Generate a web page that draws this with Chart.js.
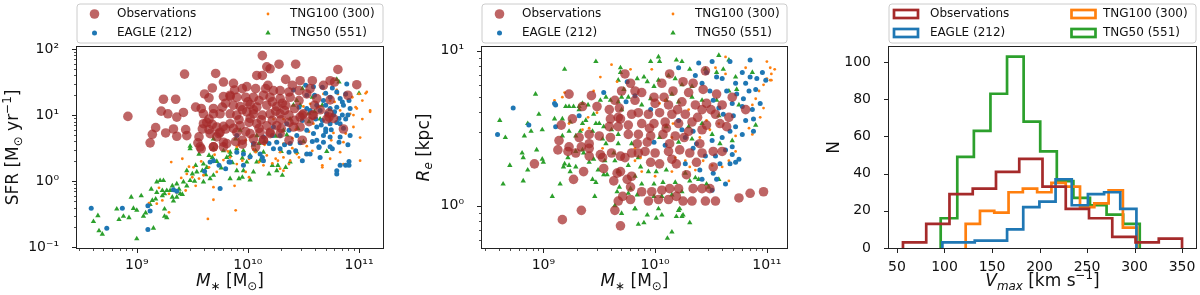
<!DOCTYPE html>
<html>
<head>
<meta charset="utf-8">
<script src="https://cdn.jsdelivr.net/npm/chart.js@4.4.1/dist/chart.umd.min.js"></script>
<style>
  html, body { margin: 0; padding: 0; background: #fff; }
  #wrap { position: relative; width: 1200px; height: 295px; }
  .panel { position: absolute; top: 0; width: 400px; height: 295px; }
</style>
</head>
<body>
<div id="wrap">
  <div class="panel" style="left:0"><canvas id="sfr" width="400" height="295"></canvas></div>
  <div class="panel" style="left:400px"><canvas id="re" width="400" height="295"></canvas></div>
  <div class="panel" style="left:800px"><canvas id="vmax" width="400" height="295"></canvas></div>
</div>
<script>
const sfrObs = [
  [9.43,1.62],[9.71,1.63],[9.78,1.50],[9.68,1.41],[9.24,1.24],[9.35,1.24],[9.61,1.32],[9.65,1.26],[9.78,1.28],[9.84,1.28],
  [9.80,1.18],[9.53,1.12],[9.58,1.10],[9.69,1.10],[9.77,1.12],[9.22,1.06],[9.28,1.02],[9.36,0.97],[9.42,1.04],[8.92,0.98],
  [9.60,1.02],[9.65,0.94],[9.69,1.02],[9.75,1.02],[9.60,0.87],[9.63,0.89],[9.68,0.86],[9.72,0.82],[9.78,0.83],[9.17,0.81],
  [9.14,0.71],[9.26,0.73],[9.33,0.79],[9.44,0.78],[9.36,0.68],[9.45,0.69],[9.59,0.79],[9.66,0.72],[9.75,0.74],[9.80,0.79],
  [9.12,0.58],[9.55,0.58],[9.72,0.67],[9.78,0.59],[9.58,0.49],[9.69,0.52],[9.78,0.52],
  [10.13,1.90],[10.28,1.77],[10.43,1.77],[10.17,1.73],[10.20,1.70],[10.81,1.69],[10.08,1.60],[10.13,1.60],[10.34,1.54],[10.47,1.52],
  [10.58,1.52],[10.74,1.52],[10.78,1.50],[10.98,1.46],[9.87,1.48],[9.95,1.40],[9.99,1.43],[10.07,1.40],[10.16,1.40],[10.23,1.37],
  [10.29,1.37],[10.37,1.35],[10.46,1.37],[10.53,1.32],[10.62,1.25],[9.84,1.30],[9.90,1.27],[9.98,1.27],[10.05,1.27],[10.14,1.30],
  [10.20,1.27],[10.29,1.25],[10.38,1.27],[10.46,1.22],[9.87,1.15],[9.93,1.13],[10.02,1.16],[10.08,1.12],[10.17,1.15],[10.26,1.13],
  [10.34,1.15],[9.84,1.02],[9.90,1.00],[9.99,1.05],[10.05,1.02],[10.13,1.00],[10.20,1.02],[10.29,1.02],[10.37,1.00],[10.47,0.97],
  [10.50,1.02],[10.58,1.00],[10.71,0.94],[10.73,0.97],[9.84,0.87],[9.93,0.84],[10.01,0.89],[10.08,0.87],[10.17,0.84],[10.26,0.84],
  [10.37,0.89],[10.47,0.82],[10.86,0.79],[9.90,0.74],[10.02,0.72],[10.11,0.74],[10.20,0.74],[10.29,0.72],[10.37,0.62],[9.95,0.62],
  [10.05,0.64],[10.14,0.62],
  [9.56,0.67],[9.65,0.78],[9.74,0.72],[9.81,0.57],[9.89,0.60],[9.95,0.56],[9.57,0.52],[9.69,0.52],[10.07,0.52],[9.87,0.80],
  [9.98,0.75],[10.14,0.62],[10.20,0.72],[10.74,1.23],[10.73,1.03],[10.77,0.95],[10.59,1.00],[10.49,1.00],[10.41,0.82],[10.49,0.62],
  [10.00,1.20],[10.10,1.22],[10.22,1.20],[10.31,1.18],[10.42,1.10],[9.95,1.08],[10.05,1.08],[10.25,1.06],[10.33,1.07],[10.42,0.92],
  [10.12,0.93],[10.02,0.95],[9.92,0.93],[10.22,0.92],[10.30,0.93],[10.55,0.90],[10.65,1.08],[10.60,1.15],[10.10,0.80],[10.30,0.80],
  [9.88,1.38],[10.18,1.45],[10.40,1.45],[10.56,1.40],[10.68,1.45],[10.90,1.30]
];
const sfrEagle = [
  [10.41,1.38],[10.52,1.45],[10.59,1.43],[10.67,1.42],[10.76,1.41],[10.89,1.47],[10.88,1.32],[10.83,1.25],[10.91,1.22],[10.74,1.27],
  [10.68,1.22],[10.62,1.15],[10.56,1.07],[10.65,1.07],[10.74,1.10],[10.80,1.12],[10.86,1.15],[10.92,1.10],[10.71,1.02],[10.77,1.00],
  [10.85,1.00],[10.61,0.94],[10.67,0.92],[10.74,0.87],[10.80,0.89],[10.88,0.94],[10.62,0.82],[10.70,0.79],[10.53,0.77],[10.59,0.72],
  [10.68,0.69],[10.74,0.67],[10.83,0.67],[10.92,0.69],[10.44,0.69],[10.37,0.77],[10.29,0.69],[10.22,0.69],[10.14,0.67],[10.23,0.82],
  [10.35,0.87],[10.49,0.92],[10.53,1.10],[10.46,1.12],[10.83,0.87],[10.68,0.59],[10.64,0.52],[10.74,0.52],[10.82,0.59],[10.38,0.57],
  [10.26,0.59],[10.19,0.57],[9.90,0.69],[10.05,0.57],[10.53,1.30],
  [9.90,0.44],[9.96,0.41],[10.02,0.37],[10.11,0.41],[10.14,0.31],[10.23,0.49],[10.37,0.44],[10.43,0.46],[10.49,0.31],[10.53,0.41],
  [10.56,0.41],[10.64,0.51],[10.65,0.36],[10.76,0.49],[10.80,0.16],[10.80,0.11],[10.83,0.24],[10.88,0.24],[10.91,0.30],[10.91,0.24],
  [10.29,0.49],[9.84,0.29],[9.96,0.24],[10.13,0.36],
  [8.59,-0.41],[8.73,-0.71],[8.87,-0.41],[9.10,-0.37],[9.12,-0.45],[9.10,-0.73],[9.33,-0.13],[9.36,-0.15],[9.61,0.15],[9.66,0.29],
  [9.75,-0.11],[9.74,0.24],[9.83,0.29],[9.80,0.19],[9.69,0.31],
  [10.60,1.30],[10.70,1.33],[10.80,1.35],[10.85,1.20],[10.70,1.15],[10.78,1.05],[10.82,0.95],[10.90,1.00],[10.66,0.85],[10.75,0.78],
  [10.86,0.80],[10.58,0.60],[10.70,0.75],[10.90,0.55],[10.62,0.62],[10.47,0.58],[10.33,0.55]
];
const sfrTng100 = [
  [10.80,1.38],[10.81,1.32],[10.88,1.30],[10.94,1.27],[11.00,1.32],[11.06,1.33],[11.03,1.22],[10.97,1.12],[10.98,1.10],[10.92,1.02],
  [10.89,0.97],[10.95,1.00],[11.03,0.94],[11.10,1.07],[10.83,1.07],[10.74,1.22],[10.78,1.20],[10.68,1.32],[10.64,1.12],[10.56,1.17],
  [10.50,1.13],[10.49,1.02],[10.59,0.87],[10.77,0.73],[10.88,0.72],[10.95,0.82],[11.01,0.66],[10.86,0.59],[10.32,0.94],[10.23,0.94],
  [10.43,0.78],[9.98,0.62],[9.90,0.52],[10.32,0.57],[10.53,0.53],
  [9.84,0.36],[9.90,0.26],[9.95,0.31],[10.01,0.34],[10.07,0.44],[10.10,0.29],[10.14,0.24],[10.17,0.39],[10.22,0.27],[10.25,0.34],
  [10.29,0.44],[10.32,0.36],[10.37,0.26],[10.38,0.31],[10.44,0.41],[10.46,0.36],[10.29,0.19],[10.58,0.46],[10.67,0.24],[10.67,0.21],
  [10.74,0.34],[10.83,0.44],[10.86,0.26],[11.01,0.31],[9.88,-0.07],[9.89,-0.44],[9.98,0.14],[10.01,0.06],[10.32,0.16],[10.27,0.31],
  [9.31,0.29],[9.41,0.34],[9.64,-0.57],[9.69,-0.28],[9.45,0.11],[9.50,0.06],[9.56,0.04],[9.60,0.09],[9.53,-0.07],[9.44,-0.14],
  [9.36,-0.17],[9.29,-0.19],[9.23,-0.29],[9.18,-0.34],[9.11,-0.33],[9.29,-0.47],[9.69,-0.09],[9.72,0.14],[9.65,0.21],[9.51,0.21],
  [9.78,0.32],[11.07,1.35],[11.10,1.05],
  [9.70,0.40],[9.82,0.45],[9.92,0.55],[10.05,0.48],[10.15,0.55],[10.25,0.60],[10.40,0.65],[10.55,0.75],[10.62,0.95],[10.72,1.00],
  [10.75,0.62],[10.52,0.40],[10.40,0.50],[9.58,0.30],[9.47,0.22],[9.40,0.05],[9.20,-0.10]
];
const sfrTng50 = [
  [8.61,-0.61],[8.65,-0.52],[8.66,-0.75],[8.69,-0.80],[8.82,-0.42],[8.84,-0.58],[8.88,-0.53],[8.93,-0.55],[8.95,-0.24],[8.97,-0.41],
  [9.00,-0.44],[9.00,-0.87],[9.04,-0.22],[9.06,-0.53],[9.08,-0.48],[9.13,-0.12],[9.14,-0.29],[9.17,-0.27],[9.18,-0.01],[9.21,0.01],
  [9.24,0.01],[9.25,-0.53],[9.27,-0.55],[9.15,-0.71],[9.25,-0.42],[9.32,-0.07],[9.36,-0.04],[9.18,-0.17],[9.23,-0.14],[9.27,-0.14],
  [9.32,-0.24],[9.36,-0.24],[9.38,-0.12],[9.42,-0.01],[9.45,-0.07],[9.48,0.01],[9.50,0.11],[9.54,0.14],[9.59,0.16],[9.39,-0.19],
  [9.23,-0.22],[9.25,-0.19],[9.30,-0.14],[9.60,-0.01],[9.63,0.21],[9.66,0.04],[9.48,0.49],[9.56,0.41],[9.65,0.39],[9.68,0.36],
  [9.69,0.49],[9.78,0.46],[9.81,0.36],[9.84,0.39],[9.60,0.26],[9.53,0.24],[9.45,0.16],[9.69,0.09],
  [9.84,0.44],[9.90,0.49],[9.96,0.46],[9.99,0.29],[10.02,0.39],[10.07,0.46],[10.08,0.29],[10.11,0.31],[10.14,0.44],[10.19,0.11],
  [10.26,0.16],[10.27,0.24],[10.31,0.09],[10.34,0.21],[10.38,0.29],[10.44,0.44],[10.71,0.45],[9.92,0.04],[9.95,0.06],[10.02,0.02],
  [9.90,0.16],[9.96,0.16],[10.05,0.14],[10.22,0.24],[9.84,0.04],
  [10.49,1.40],[10.44,1.22],[10.41,1.15],[10.55,1.03],[10.58,1.27],[10.67,1.15],[10.80,1.54],[10.82,1.50],[11.00,1.33],[9.93,0.77],
  [9.89,0.64],[10.08,0.69],[10.10,0.57],[10.38,0.94],[10.47,1.15],[10.32,0.77],[10.65,0.94],[10.74,1.08],[9.69,0.64],[9.48,0.53],
  [9.72,0.30],[9.76,0.20],[9.86,0.28],[9.95,0.35],[10.05,0.55],[10.15,0.60],[10.25,0.68],[10.35,0.70],[10.45,0.80],[10.55,0.90],
  [9.62,0.10],[9.52,0.00],[9.41,-0.20],[9.33,-0.30],[9.12,-0.35],[10.60,1.05],[10.30,0.45],[10.50,0.60]
];

const reObs = [
  [9.23,0.72],[9.35,0.64],[9.26,0.56],[9.43,0.71],[9.16,0.52],[9.32,0.44],[9.41,0.46],[9.50,0.45],[9.59,0.51],[9.60,0.56],
  [9.59,0.62],[9.68,0.63],[9.70,0.74],[9.73,0.85],[9.78,0.79],[9.69,0.56],[9.67,0.51],[9.76,0.52],[9.76,0.46],[9.14,0.42],
  [9.23,0.38],[9.41,0.40],[9.60,0.44],[9.67,0.57],[9.79,0.59],[9.82,0.74],[9.64,0.68],
  [8.92,0.27],[9.13,0.36],[9.22,0.35],[9.29,0.34],[9.36,0.22],[9.27,0.17],[9.34,-0.03],[9.17,-0.09],[9.53,0.31],[9.61,0.34],
  [9.69,0.32],[9.73,0.31],[9.79,0.34],[9.54,0.24],[9.69,0.22],[9.63,0.16],[9.75,0.17],[9.79,0.19],[9.67,0.03],[9.71,0.06],
  [9.78,0.04],[9.64,-0.03],[9.69,-0.13],[9.41,0.37],
  [10.13,0.85],[10.45,0.87],[10.25,0.80],[10.34,0.79],[10.06,0.79],[9.99,0.70],[9.88,0.73],[10.16,0.74],[10.30,0.73],[10.43,0.75],
  [10.55,0.72],[10.69,0.70],[10.00,0.66],[10.12,0.65],[10.24,0.67],[10.36,0.65],[10.46,0.66],[10.60,0.65],[9.85,0.60],[9.94,0.59],
  [10.04,0.60],[10.15,0.59],[10.27,0.59],[10.42,0.62],[10.54,0.59],[10.66,0.57],[9.88,0.53],[9.99,0.53],[10.09,0.54],[10.21,0.53],
  [10.33,0.54],[10.46,0.52],[10.58,0.53],[9.85,0.46],[9.96,0.45],[10.07,0.46],[10.18,0.45],[10.30,0.48],[10.42,0.49],[9.84,0.40],
  [9.93,0.41],[10.13,0.40],[9.82,0.68],[10.81,0.62],[10.64,0.51],
  [9.91,0.35],[10.00,0.34],[10.12,0.35],[10.22,0.36],[10.31,0.34],[10.42,0.34],[10.52,0.35],[9.96,0.28],[10.04,0.27],[10.19,0.27],
  [10.37,0.28],[9.88,0.09],[9.97,0.09],[10.06,0.10],[10.13,0.11],[10.21,0.11],[10.34,0.11],[10.42,0.11],[10.49,0.11],[10.52,0.25],
  [10.60,0.35],[9.94,0.03],[10.03,0.04],[10.12,0.04],[10.19,0.06],[10.25,0.03],[10.33,0.03],[10.45,0.03],[10.54,0.03],[10.75,0.05],
  [10.85,0.08],[10.97,0.09],[9.85,0.34],
  [9.48,0.64],[9.51,0.33],[9.41,0.32],[9.34,0.38],[9.66,0.21],[9.78,0.12],
  [10.08,0.70],[10.20,0.62],[10.38,0.57],[10.10,0.50],[10.26,0.44],[10.50,0.62],[9.95,0.50],[10.40,0.40],[10.15,0.30],[10.28,0.20]
];
const reEagle = [
  [8.73,0.63],[8.59,0.46],[8.87,0.52],[9.10,0.66],[9.11,0.65],[9.11,0.51],[9.32,0.58],[9.54,0.73],[9.75,0.80],[9.74,0.67],[9.82,0.71],
  [10.21,0.89],[10.39,0.92],[10.51,0.93],[10.67,0.93],[10.85,0.94],[10.46,0.86],[10.55,0.83],[10.42,0.79],[10.60,0.82],[10.78,0.86],
  [10.85,0.83],[10.81,0.79],[10.91,0.82],[10.99,0.81],[10.96,0.86],[10.72,0.79],[10.64,0.74],[10.73,0.72],[10.84,0.74],[10.90,0.75],
  [10.79,0.69],[10.69,0.66],[10.78,0.64],[10.87,0.62],[10.94,0.66],[10.61,0.59],[10.70,0.58],[10.81,0.55],[10.88,0.56],[10.72,0.51],
  [10.78,0.46],[10.67,0.48],[10.60,0.44],[10.88,0.48],[10.51,0.42],[10.37,0.40],[10.34,0.48],[10.24,0.49],[10.09,0.39],[9.99,0.41],
  [9.96,0.62],[10.49,0.74],[10.36,0.84],[10.27,0.44],
  [10.34,0.37],[10.45,0.32],[10.54,0.32],[10.63,0.36],[10.69,0.33],[10.72,0.28],[10.75,0.30],[10.67,0.27],[10.58,0.27],[10.40,0.23],
  [10.52,0.21],[10.42,0.17],[10.55,0.17],[10.63,0.14],[10.51,0.10],[10.27,0.27],[10.69,0.38],
  [10.21,0.55],[10.52,0.68],[10.57,0.63]
];
const reTng100 = [
  [9.61,0.91],[9.51,0.83],[9.45,0.74],[9.40,0.57],[9.41,0.50],[9.48,0.60],[9.10,0.68],[9.19,0.73],[9.17,0.70],[9.23,0.53],
  [9.66,0.80],[9.78,0.88],[9.35,0.49],
  [9.97,0.88],[10.63,0.96],[10.54,0.89],[11.00,0.93],[11.03,0.89],[11.07,0.88],[10.96,0.86],[11.04,0.85],[11.00,0.82],[11.03,0.81],
  [10.97,0.78],[11.04,0.81],[10.93,0.74],[10.90,0.69],[10.87,0.65],[10.97,0.63],[10.94,0.57],[10.84,0.50],[10.87,0.46],[10.72,0.45],
  [10.57,0.53],[10.46,0.55],[10.49,0.49],[10.40,0.44],[10.15,0.44],[10.09,0.68],[10.30,0.62],[10.63,0.85],[10.81,0.89],
  [9.87,0.31],[10.18,0.31],[10.27,0.29],[10.31,0.25],[10.36,0.23],[10.43,0.29],[10.51,0.26],[10.60,0.25],[10.66,0.29],[10.72,0.35],
  [10.66,0.16],[10.15,0.22],[10.00,0.19],[9.88,0.22],[9.82,0.29],
  [9.53,0.37],[9.82,0.37],[9.96,0.62],[10.04,0.66],[10.16,0.53]
];
const reTng50 = [
  [9.47,0.93],[9.19,0.88],[8.93,0.72],[8.61,0.55],[8.66,0.44],[8.83,0.45],[8.89,0.48],[8.96,0.59],[8.86,0.53],[9.10,0.56],
  [9.17,0.56],[9.20,0.64],[9.23,0.64],[9.27,0.64],[9.32,0.64],[9.35,0.66],[9.40,0.65],[9.45,0.59],[9.47,0.53],[9.51,0.68],
  [9.56,0.70],[9.60,0.68],[9.67,0.67],[9.70,0.70],[9.76,0.70],[9.70,0.62],[9.23,0.48],[9.29,0.45],[9.33,0.48],[9.17,0.45],
  [9.24,0.54],[9.35,0.53],[9.38,0.55],[9.44,0.48],[9.50,0.53],[9.54,0.51],[9.61,0.49],[9.67,0.46],[9.53,0.43],[9.56,0.40],
  [9.67,0.40],[9.79,0.40],[9.69,0.86],[9.67,0.81],[9.72,0.75],[9.69,0.89],[9.32,0.62],[8.99,0.49],
  [8.81,0.34],[8.82,0.31],[8.94,0.36],[8.99,0.30],[9.00,0.28],[8.70,0.26],[8.86,0.23],[8.64,0.14],[8.82,0.16],[9.08,0.06],
  [9.15,0.14],[9.18,0.25],[9.19,0.27],[9.23,0.26],[9.29,0.25],[9.24,0.22],[9.22,0.31],[9.29,0.35],[9.35,0.36],[9.36,0.34],
  [9.41,0.28],[9.45,0.30],[9.44,0.17],[9.47,0.15],[9.46,0.06],[9.49,0.23],[9.54,0.20],[9.57,0.20],[9.55,0.29],[9.64,0.29],
  [9.67,0.22],[9.68,0.12],[9.66,0.09],[9.64,0.00],[9.70,-0.05],[9.76,0.26],[9.78,0.11],[9.76,0.08],[9.82,-0.02],[9.63,0.34],
  [9.85,0.31],[9.94,0.22],[10.01,0.22],[10.10,0.23],[9.82,0.19],[9.84,0.07],[9.88,0.14],[9.99,0.14],[10.07,0.15],[10.18,0.15],
  [10.31,0.16],[10.39,0.17],[10.46,0.14],[9.99,0.06],[10.06,0.06],[10.15,0.07],[10.24,0.09],[10.21,-0.03],[10.22,-0.02],[10.03,-0.02],
  [9.93,-0.06],[10.01,-0.08],[10.06,-0.06],[9.85,-0.12],[9.90,-0.11],[9.82,-0.02],[10.19,-0.07],[10.24,-0.07],[10.25,-0.06],[10.31,-0.11],
  [10.15,-0.17],[10.11,-0.21],[10.27,0.21],[10.36,0.18],[10.57,0.17],[9.87,0.25],[10.48,0.12],
  [9.96,0.93],[10.04,0.93],[10.03,0.96],[10.19,0.94],[10.31,0.88],[10.45,0.88],[10.55,0.86],[10.57,0.97],[10.66,0.94],[10.61,0.88],
  [10.72,0.83],[10.87,0.86],[9.90,0.83],[9.93,0.80],[9.99,0.77],[10.03,0.81],[10.12,0.84],[10.18,0.82],[10.24,0.78],[10.33,0.77],
  [9.96,0.69],[10.10,0.68],[10.15,0.72],[10.21,0.67],[10.33,0.70],[10.42,0.68],[10.55,0.68],[10.66,0.74],[10.73,0.75],[10.75,0.65],
  [10.57,0.58],[10.42,0.53],[10.30,0.51],[10.10,0.51],[10.04,0.44],[10.21,0.41],[10.33,0.43],[10.51,0.46],[10.58,0.40],[10.69,0.42],
  [10.90,0.52],[9.88,0.65],[10.24,0.93],[9.84,0.82]
];

// ---- data: Vmax histograms (12 equal bins over each sample's range, km/s) ----
const vmaxObsRange = [56.3, 350.0];
const vmaxObsCounts = [3, 13, 29, 32, 41, 48, 33, 21, 16, 6, 3, 5];
const vmaxEagleRange = [97.8, 302.0];
const vmaxEagleCounts = [3, 3, 4, 4, 10, 22, 25, 37, 23, 29, 30, 21];
const vmaxTng100Range = [122.3, 302.8];
const vmaxTng100Counts = [13, 20, 19, 30, 32, 30, 35, 33, 22, 24, 31, 11];
const vmaxTng50Range = [96.0, 305.5];
const vmaxTng50Counts = [16, 49, 63, 83, 103, 68, 52, 36, 27, 23, 18, 13];

const vmaxTicks = [50, 100, 150, 200, 250, 300, 350];
const countTicks = [0, 20, 40, 60, 80, 100];
const labels = ['Observations', 'EAGLE (212)', 'TNG100 (300)', 'TNG50 (551)'];

// ---- styling ----
const FONT = "'DejaVu Sans', sans-serif";
const INK = '#111';
const C_OBS = 'rgba(165,42,42,0.72)';
const C_OBS_LINE = '#a52a2a';
const C_EAGLE = '#1f77b4';
const C_TNG100 = '#ff7f0e';
const C_TNG50 = '#2ca02c';

Chart.defaults.font.family = FONT;
Chart.defaults.color = INK;
Chart.defaults.animation = false;

const SUP = { '0': '⁰', '1': '¹', '2': '²', '3': '³', '4': '⁴', '5': '⁵', '6': '⁶', '7': '⁷', '8': '⁸', '9': '⁹', '-': '⁻' };
const sup = n => String(n).split('').map(c => SUP[c]).join('');

const toPoints = pairs => pairs.map(([m, v]) => ({ x: 10 ** m, y: 10 ** v }));

function stepPoints(range, counts) {
  const [lo, hi] = range;
  const w = (hi - lo) / counts.length;
  const pts = [{ x: lo, y: 0 }];
  counts.forEach((c, i) => pts.push({ x: lo + i * w, y: c }));
  pts.push({ x: hi, y: 0 });
  return pts;
}

function logTicks(min, max) {
  const out = [];
  for (let e = Math.floor(Math.log10(min)); e <= Math.ceil(Math.log10(max)); e++) {
    for (let m = 1; m <= 9; m++) {
      const v = m * 10 ** e;
      if (v >= min && v <= max) out.push({ value: v, major: m === 1 });
    }
  }
  return out.sort((a, b) => a.value - b.value);
}

function logAxis(lo, hi, isX, box) {
  return {
    type: 'logarithmic', min: 10 ** lo, max: 10 ** hi,
    grid: { display: false }, border: { display: false },
    ticks: {
      font: { size: 14 }, color: INK, autoSkip: false, maxRotation: 0, padding: isX ? 1 : 10,
      callback: (v, i, ticks) => ticks[i] && ticks[i].major ? '10' + sup(Math.round(Math.log10(v))) : ''
    },
    afterBuildTicks: s => { s.ticks = logTicks(s.min, s.max); },
    afterFit: s => { if (isX) s.height = box; else s.width = box; }
  };
}

function linAxis(min, max, values, isX, box) {
  return {
    type: 'linear', min, max, bounds: 'data',
    grid: { display: false }, border: { display: false },
    ticks: { font: { size: 14 }, color: INK, autoSkip: false, maxRotation: 0, padding: isX ? 3 : 10, callback: v => String(v) },
    afterBuildTicks: s => { s.ticks = values.map(v => ({ value: v, major: true })); },
    afterFit: s => { if (isX) s.height = box; else s.width = box; }
  };
}

// axis titles, drawn as mixed italic / sub / superscript text
const TITLES = {
  sfr: {
    x: [{ t: 'M', it: 1 }, { t: '∗', sub: 1 }, { t: ' [M' }, { t: '⊙', sub: 1 }, { t: ']' }],
    y: [{ t: 'SFR [M' }, { t: '⊙', sub: 1 }, { t: ' yr' }, { t: '−1', sup: 1 }, { t: ']' }],
    yBase: 18
  },
  re: {
    x: [{ t: 'M', it: 1 }, { t: '∗', sub: 1 }, { t: ' [M' }, { t: '⊙', sub: 1 }, { t: ']' }],
    y: [{ t: 'R', it: 1 }, { t: 'e', it: 1, sub: 1 }, { t: ' [kpc]' }],
    yBase: 28.5
  },
  vmax: {
    x: [{ t: 'V', it: 1 }, { t: 'max', it: 1, sub: 1 }, { t: ' [km s' }, { t: '−1', sup: 1 }, { t: ']' }],
    y: [{ t: 'N' }],
    yBase: 39
  }
};

function drawRich(ctx, segs, cx, base, size) {
  const fontOf = s => (s.it ? 'italic ' : '') + ((s.sub || s.sup) ? size * 0.7 : size) + 'px ' + FONT;
  let w = 0;
  segs.forEach(s => { ctx.font = fontOf(s); w += ctx.measureText(s.t).width; });
  let x = cx - w / 2;
  ctx.textAlign = 'left';
  ctx.textBaseline = 'alphabetic';
  ctx.fillStyle = INK;
  segs.forEach(s => {
    ctx.font = fontOf(s);
    const dy = s.sub ? size * 0.22 : s.sup ? -size * 0.42 : 0;
    ctx.fillText(s.t, x, base + dy);
    x += ctx.measureText(s.t).width;
  });
}

// legend handle / text offsets relative to the axes' left edge
const LEGEND_POS = {
  sfr: { hx: [17.5, 191], tx: [40, 213] },
  re: { hx: [17.5, 191], tx: [40, 213] },
  vmax: { hx: [17, 194.5], tx: [41, 214] }
};

const decor = {
  id: 'decor',
  afterDraw(chart) {
    const { ctx, chartArea: a } = chart;
    const id = chart.canvas.id;
    ctx.save();
    // frame
    ctx.strokeStyle = '#222';
    ctx.lineWidth = 1;
    ctx.strokeRect(a.left - 0.5, a.top - 0.5, a.right - a.left + 1, a.bottom - a.top + 1);
    // tick marks
    const xs = chart.scales.x, ys = chart.scales.y;
    xs.ticks.forEach(t => {
      const p = Math.round(xs.getPixelForValue(t.value)) + 0.5;
      ctx.lineWidth = t.major ? 1 : 0.8;
      ctx.beginPath(); ctx.moveTo(p, a.bottom); ctx.lineTo(p, a.bottom + (t.major ? 5 : 3)); ctx.stroke();
    });
    ys.ticks.forEach(t => {
      const p = Math.round(ys.getPixelForValue(t.value)) + 0.5;
      ctx.lineWidth = t.major ? 1 : 0.8;
      ctx.beginPath(); ctx.moveTo(a.left, p); ctx.lineTo(a.left - (t.major ? 5 : 3), p); ctx.stroke();
    });
    // axis titles
    const T = TITLES[id];
    drawRich(ctx, T.x, (a.left + a.right) / 2, 286, 17);
    ctx.save();
    ctx.translate(T.yBase, (a.top + a.bottom) / 2);
    ctx.rotate(-Math.PI / 2);
    drawRich(ctx, T.y, 0, 0, 17);
    ctx.restore();
    // legend box
    const lx = a.left, ly = 4, lw = a.right - a.left, lh = 39, r = 3;
    ctx.beginPath();
    ctx.moveTo(lx + r, ly); ctx.arcTo(lx + lw, ly, lx + lw, ly + lh, r); ctx.arcTo(lx + lw, ly + lh, lx, ly + lh, r);
    ctx.arcTo(lx, ly + lh, lx, ly, r); ctx.arcTo(lx, ly, lx + lw, ly, r); ctx.closePath();
    ctx.fillStyle = 'rgba(255,255,255,0.8)'; ctx.fill();
    ctx.strokeStyle = '#cccccc'; ctx.lineWidth = 1; ctx.stroke();
    const P = LEGEND_POS[id];
    chart.data.datasets.forEach((ds, i) => {
      const col = i < 2 ? 0 : 1, row = i % 2;
      const hx = lx + P.hx[col], hy = row ? 33 : 14;
      if (ds.handle === 'rect') {
        ctx.strokeStyle = ds.borderColor; ctx.lineWidth = 2.7;
        ctx.strokeRect(hx - 12, hy - 4, 24, 8);
      } else if (ds.handle === 'tri') {
        const s = ds.pointRadius;
        ctx.fillStyle = ds.backgroundColor;
        ctx.beginPath(); ctx.moveTo(hx, hy - s); ctx.lineTo(hx + s * 0.87, hy + s * 0.5); ctx.lineTo(hx - s * 0.87, hy + s * 0.5); ctx.closePath(); ctx.fill();
      } else {
        ctx.fillStyle = ds.backgroundColor;
        ctx.beginPath(); ctx.arc(hx, hy, ds.pointRadius, 0, Math.PI * 2); ctx.fill();
      }
      ctx.fillStyle = INK; ctx.font = '12px ' + FONT; ctx.textAlign = 'left'; ctx.textBaseline = 'middle';
      ctx.fillText(ds.label, lx + P.tx[col], hy);
    });
    ctx.restore();
  }
};

function scatterSets(obs, eagle, tng100, tng50) {
  return [
    { label: labels[0], data: toPoints(obs), pointRadius: 4.8, backgroundColor: C_OBS, borderWidth: 0, handle: 'circle' },
    { label: labels[1], data: toPoints(eagle), pointRadius: 2.5, backgroundColor: C_EAGLE, borderWidth: 0, handle: 'circle' },
    { label: labels[2], data: toPoints(tng100), pointRadius: 1.4, backgroundColor: C_TNG100, borderWidth: 0, handle: 'circle' },
    { label: labels[3], data: toPoints(tng50), pointRadius: 3.1, pointStyle: 'triangle', backgroundColor: C_TNG50, borderWidth: 0, handle: 'tri' }
  ];
}

const baseOptions = (padRight, scales) => ({
  responsive: false,
  animation: false,
  events: [],
  layout: { padding: { top: 47, right: padRight, left: 0, bottom: 0 } },
  plugins: { legend: { display: false }, tooltip: { enabled: false } },
  scales
});

new Chart(document.getElementById('sfr'), {
  type: 'scatter',
  data: { datasets: scatterSets(sfrObs, sfrEagle, sfrTng100, sfrTng50) },
  options: baseOptions(17, { x: logAxis(8.462, 11.216, true, 47), y: logAxis(-1.01, 2.03, false, 77) }),
  plugins: [decor]
});

new Chart(document.getElementById('re'), {
  type: 'scatter',
  data: { datasets: scatterSets(reObs, reEagle, reTng100, reTng50) },
  options: baseOptions(13, { x: logAxis(8.451, 11.18, true, 47), y: logAxis(-0.273, 1.024, false, 82) }),
  plugins: [decor]
});

const histSet = (label, range, counts, color) => ({
  label, data: stepPoints(range, counts), showLine: true, stepped: true, fill: false,
  borderColor: color, borderWidth: 2.7, pointRadius: 0, borderJoinStyle: 'miter', borderCapStyle: 'butt', handle: 'rect'
});

new Chart(document.getElementById('vmax'), {
  type: 'scatter',
  data: {
    datasets: [
      histSet(labels[0], vmaxObsRange, vmaxObsCounts, C_OBS_LINE),
      histSet(labels[1], vmaxEagleRange, vmaxEagleCounts, C_EAGLE),
      histSet(labels[2], vmaxTng100Range, vmaxTng100Counts, C_TNG100),
      histSet(labels[3], vmaxTng50Range, vmaxTng50Counts, C_TNG50)
    ]
  },
  options: baseOptions(4, { x: linAxis(41.6, 364.7, vmaxTicks, true, 47), y: linAxis(0, 108.15, countTicks, false, 89) }),
  plugins: [decor]
});
</script>
</body>
</html>
